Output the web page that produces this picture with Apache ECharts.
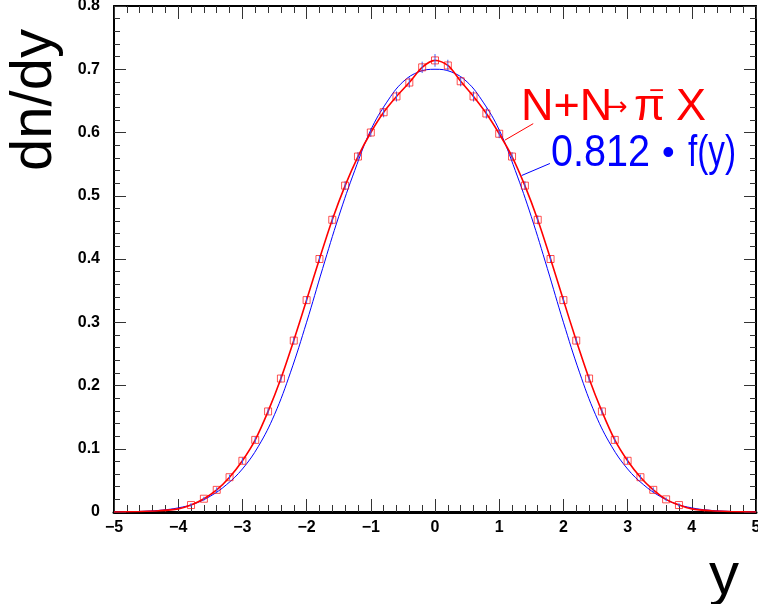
<!DOCTYPE html>
<html>
<head>
<meta charset="utf-8">
<script src="https://cdn.jsdelivr.net/npm/echarts@6/dist/echarts.min.js"></script>
<style>html,body{margin:0;padding:0;background:#fff;overflow:hidden}#c{position:absolute;left:0;top:0;width:758px;height:604px}</style>
</head>
<body>
<div id="c"></div>
<script>
// Data points (N+N -> pi- X), rapidity y
const pointX = [-3.8,-3.6,-3.4,-3.2,-3.0,-2.8,-2.6,-2.4,-2.2,-2.0,-1.8,-1.6,-1.4,-1.2,-1.0,-0.8,-0.6,-0.4,-0.2,0.0,
                0.2,0.4,0.6,0.8,1.0,1.2,1.4,1.6,1.8,2.0,2.2,2.4,2.6,2.8,3.0,3.2,3.4,3.6,3.8];
const pointY = [0.011,0.021,0.035,0.055,0.081,0.114,0.159,0.211,0.271,0.335,0.400,0.462,0.516,0.562,0.600,0.632,0.657,0.679,0.703,0.714,
                0.706,0.681,0.657,0.630,0.598,0.562,0.516,0.462,0.400,0.335,0.271,0.211,0.159,0.114,0.081,0.055,0.035,0.020,0.011];
const pointErr = [0.003,0.003,0.004,0.004,0.005,0.005,0.005,0.006,0.006,0.006,0.006,0.007,0.007,0.007,0.007,0.008,0.008,0.008,0.009,0.010,
                  0.009,0.008,0.008,0.008,0.007,0.007,0.007,0.007,0.006,0.006,0.006,0.006,0.005,0.005,0.005,0.004,0.004,0.003,0.003];
// Red fit curve tails joined with the points
const redTailX = [-5.0,-4.6,-4.3,-4.0];
const redTailY = [0.0,0.0008,0.002,0.005];
const redTailRX = [4.0,4.3,4.6,5.0];
const redTailRY = [0.005,0.002,0.0008,0.0];
// Blue curve 0.812*f(y)
const blueX = [-5.0,-4.75,-4.5,-4.25,-4.0,-3.75,-3.5,-3.25,-3.0,-2.75,-2.5,-2.25,-2.0,-1.75,-1.5,-1.25,-1.0,-0.75,-0.5,-0.25,0.0,
               0.25,0.5,0.75,1.0,1.25,1.5,1.75,2.0,2.25,2.5,2.75,3.0,3.25,3.5,3.75,4.0,4.25,4.5,4.75,5.0];
const blueY = [0.0002,0.0005,0.0013,0.003,0.0065,0.013,0.025,0.043,0.068,0.104,0.154,0.221,0.300,0.385,0.467,0.540,0.604,0.648,0.680,0.696,0.700,
               0.696,0.680,0.648,0.604,0.540,0.467,0.385,0.300,0.221,0.154,0.104,0.068,0.043,0.025,0.013,0.0065,0.003,0.0013,0.0005,0.0002];
// Axis ticks
const xTicks = {min:-5, max:5, interval:1};
const yTicks = {min:0, max:0.8, interval:0.1};
// label connector lines [x1,y1,x2,y2] in data units
const redLabelLine = [1.09,0.588,1.53,0.614];
const blueLabelLine = [1.35,0.532,1.79,0.551];

const pts = pointX.map((x,i)=>[x,pointY[i],pointErr[i]]);
const redCurve = redTailX.map((x,i)=>[x,redTailY[i]])
  .concat(pointX.map((x,i)=>[x,pointY[i]]))
  .concat(redTailRX.map((x,i)=>[x,redTailRY[i]]));
const blueCurve = blueX.map((x,i)=>[x,blueY[i]]);

const chart = echarts.init(document.getElementById('c'), null, {width:758, height:604});
const FONT = 'Liberation Sans, Arial, Helvetica, sans-serif';
const tickCol = '#333';
function baseX(pos, showLabel){
  return {type:'value', position:pos, min:xTicks.min, max:xTicks.max, interval:xTicks.interval,
    axisLine:{show:true, onZero:false, lineStyle:{color:'#000', width: pos==='bottom'?3:2}},
    axisTick:{show:true, inside:true, length:13, lineStyle:{color:tickCol,width:1}},
    minorTick:{show:true, splitNumber:5, length:7, lineStyle:{color:tickCol,width:1}},
    splitLine:{show:false}, minorSplitLine:{show:false},
    axisLabel:{show:showLabel, margin:8, color:'#000', fontFamily:FONT, fontSize:16, fontWeight:'bold',
      hideOverlap:false, showMinLabel:true, showMaxLabel:true,
      formatter:v=>String(v).replace('-','\u2212')}};
}
function baseY(pos, showLabel){
  return {type:'value', position:pos, min:yTicks.min, max:yTicks.max, interval:yTicks.interval,
    axisLine:{show:true, onZero:false, lineStyle:{color:'#000', width:2}},
    axisTick:{show:true, inside:true, length:12, lineStyle:{color:tickCol,width:1}},
    minorTick:{show:true, splitNumber:5, length:6, lineStyle:{color:tickCol,width:1}},
    splitLine:{show:false}, minorSplitLine:{show:false},
    axisLabel:{show:showLabel, margin:14, color:'#000', fontFamily:FONT, fontSize:16, fontWeight:'bold',
      formatter:v=> v===0 ? '0' : v.toFixed(1)}};
}

chart.setOption({
  animation:false,
  backgroundColor:'#fff',
  grid:{left:114, right:2, top:6, bottom:92, containLabel:false, outerBoundsMode:'none'},
  xAxis:[baseX('bottom',true), baseX('top',false)],
  yAxis:[baseY('left',true), baseY('right',false)],
  series:[
    {type:'line', data:blueCurve, smooth:0.4, showSymbol:false, z:2,
     lineStyle:{color:'#0000ff', width:1},
     markLine:{silent:true, symbol:'none', label:{show:false}, lineStyle:{color:'#0000ff', width:1, type:'solid'},
       data:[[{coord:[blueLabelLine[0],blueLabelLine[1]]},{coord:[blueLabelLine[2],blueLabelLine[3]]}]]}},
    {type:'line', data:redCurve, smooth:0.3, showSymbol:false, z:3,
     lineStyle:{color:'#ff0000', width:1.6},
     markLine:{silent:true, symbol:'none', label:{show:false}, lineStyle:{color:'#ff0000', width:1, type:'solid'},
       data:[[{coord:[redLabelLine[0],redLabelLine[1]]},{coord:[redLabelLine[2],redLabelLine[3]]}]]}},
    {type:'custom', data:pts, z:4,
     renderItem:(params, api)=>{
       const x=api.value(0), y=api.value(1), e=api.value(2);
       const a=api.coord([x,y+e]), b=api.coord([x,y-e]);
       return {type:'line', shape:{x1:a[0],y1:a[1],x2:b[0],y2:b[1]}, style:{stroke:'#3a5cff', lineWidth:1}};
     }},
    {type:'scatter', data:pts.map(p=>[p[0],p[1]]), symbol:'rect', symbolSize:7, z:5,
     itemStyle:{color:'rgba(255,255,255,0)', borderColor:'rgba(255,0,0,0.85)', borderWidth:1}}
  ],
  graphic:[
    {type:'text', x:35, y:100, rotation:Math.PI/2,
     style:{text:'dn/dy', font:'58px '+FONT, fill:'#000', align:'center', verticalAlign:'middle'}},
    {type:'text', x:724, y:577,
     style:{text:'y', font:'60px '+FONT, fill:'#000', align:'center', verticalAlign:'middle'}},
    {type:'text', x:521, y:108,
     style:{text:'N+N', font:'45px '+FONT, fill:'#ff0000', align:'left', verticalAlign:'middle'}},
    {type:'text', x:606, y:108,
     style:{text:'\u2192', font:'26px DejaVu Sans', fill:'#ff0000', align:'left', verticalAlign:'middle'}},
    {type:'text', x:634, y:108,
     style:{text:'\u03c0', font:'45px '+FONT, fill:'#ff0000', align:'left', verticalAlign:'middle'}},
    {type:'text', x:649, y:92,
     style:{text:'\u2212', font:'26px '+FONT, fill:'#ff0000', align:'left', verticalAlign:'middle'}},
    {type:'text', x:676, y:108,
     style:{text:'X', font:'45px '+FONT, fill:'#ff0000', align:'left', verticalAlign:'middle'}},
    {type:'text', x:551, y:154, scaleX:0.88,
     style:{text:'0.812', font:'45px '+FONT, fill:'#0000ff', align:'left', verticalAlign:'middle'}},
    {type:'text', x:662, y:154,
     style:{text:'\u2022', font:'36px '+FONT, fill:'#0000ff', align:'left', verticalAlign:'middle'}},
    {type:'text', x:688, y:154, scaleX:0.74,
     style:{text:'f(y)', font:'45px '+FONT, fill:'#0000ff', align:'left', verticalAlign:'middle'}}
  ]
});
</script>
</body>
</html>
